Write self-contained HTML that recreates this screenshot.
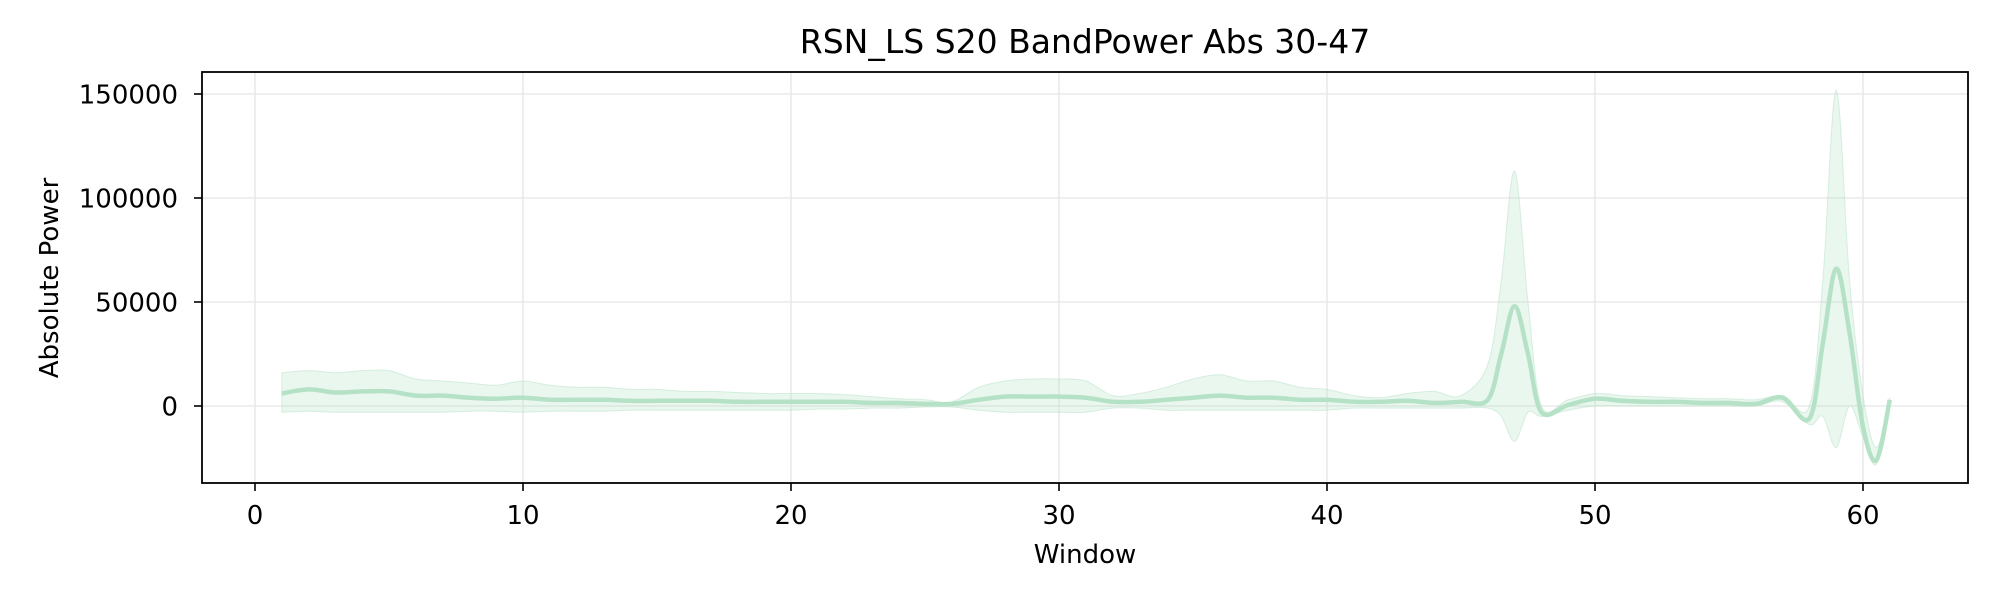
<!DOCTYPE html>
<html><head><meta charset="utf-8"><style>
html,body{margin:0;padding:0;background:#fff;}
svg text{font-family:"DejaVu Sans","Liberation Sans",sans-serif;fill:#000;}
</style></head><body>
<svg id="chart" width="2000" height="600" xmlns="http://www.w3.org/2000/svg">
<rect width="2000" height="600" fill="#fff"/>
<g id="grid"></g>
<g id="series"></g>
<rect x="202" y="72" width="1766" height="411" fill="none" stroke="#000" stroke-width="1.8"/>
<g id="axes"></g>
<text x="1085" y="53" font-size="33" text-anchor="middle">RSN_LS S20 BandPower Abs 30-47</text>
<text x="1085" y="563" font-size="26" text-anchor="middle">Window</text>
<text x="58" y="278" font-size="26" text-anchor="middle" transform="rotate(-90 58 278)">Absolute Power</text>
</svg>
<script>
const xs =    [1,2,3,4,5,6,7,8,9,10,11,12,13,14,15,16,17,18,19,20,21,22,23,24,25,26,27,28,29,30,31,32,33,34,35,36,37,38,39,40,41,42,43,44,45,46,46.5,47,47.5,48,49,50,51,52,53,54,55,56,57,58,58.5,59,59.5,60,60.5,61];
const meanVals = [6000,8000,6500,7000,7000,5000,5000,4000,3500,4000,3000,3000,3000,2500,2500,2500,2500,2000,2000,2000,2000,2000,1500,1500,1000,1000,3000,4500,4500,4500,4000,2000,2000,3000,4000,5000,4000,4000,3000,3000,2000,2000,2500,1500,2000,3000,25000,48000,25000,-3000,500,3500,2500,2000,2000,1500,1500,1000,4000,-6000,30000,66000,35000,-10000,-26000,3000];
const upperVals = [16000,17000,16000,17000,17000,13000,12000,11000,10000,12000,10000,9000,9000,8000,8000,7000,7000,6500,6000,6000,6000,5500,4500,3500,3000,2000,9000,12000,13000,13000,12000,5000,6000,9000,13000,15000,12000,12000,9000,8000,5000,4000,6000,7000,5000,20000,60000,113000,50000,0,3000,6000,5000,4500,4000,3500,3500,3000,5000,0,60000,152000,60000,5000,-20000,4000];
const lowerVals = [-3000,-2500,-3000,-3000,-3000,-3000,-3000,-2500,-2500,-3000,-2500,-2500,-2500,-2000,-2000,-2000,-2000,-2000,-2000,-2000,-1500,-1500,-1000,-1000,-500,-500,-2000,-3000,-3000,-3000,-3000,-1000,-1000,-2000,-2000,-2000,-2000,-2000,-2000,-2000,-1000,-1000,-1000,-1000,-1000,-1000,-5000,-17000,-3000,-5000,-2000,0,0,0,0,0,0,0,2000,-9000,-5000,-20000,0,-15000,-28000,500];
const xTicks = [0,10,20,30,40,50,60];
const yTicks = [0,50000,100000,150000];
const yTickLabels = ["0","50000","100000","150000"];

const NS="http://www.w3.org/2000/svg";
const X = v => 255 + v*26.8;
const Y = v => 406 - v*312/150000;
function mk(tag, attrs, parent){const e=document.createElementNS(NS,tag);for(const k in attrs)e.setAttribute(k,attrs[k]);parent.appendChild(e);return e;}
function smooth(px,py){
  let d="M"+px[0]+","+py[0];
  for(let i=0;i<px.length-1;i++){
    const x0=px[Math.max(i-1,0)],y0=py[Math.max(i-1,0)],x1=px[i],y1=py[i],x2=px[i+1],y2=py[i+1],x3=px[Math.min(i+2,px.length-1)],y3=py[Math.min(i+2,px.length-1)];
    const c1x=x1+(x2-x0)/6,c1y=y1+(y2-y0)/6,c2x=x2-(x3-x1)/6,c2y=y2-(y3-y1)/6;
    d+=" C"+c1x.toFixed(1)+","+c1y.toFixed(1)+" "+c2x.toFixed(1)+","+c2y.toFixed(1)+" "+x2.toFixed(1)+","+y2.toFixed(1);
  }
  return d;
}
const grid=document.getElementById('grid'), axes=document.getElementById('axes'), series=document.getElementById('series');
xTicks.forEach(t=>{
  const g=mk('line',{x1:X(t),x2:X(t),y1:72,y2:483,stroke:'#e5e5e5','stroke-width':1.3},grid);
  
  
  const tk=mk('line',{x1:X(t),x2:X(t),y1:483,y2:491,stroke:'#000','stroke-width':1.6},axes);
  
  
  const lb=mk('text',{x:X(t),y:524,'font-size':26,'text-anchor':'middle'},axes);
  lb.textContent=String(t);
  
  
});
yTicks.forEach((t,i)=>{
  const g=mk('line',{x1:202,x2:1968,y1:Y(t),y2:Y(t),stroke:'#e5e5e5','stroke-width':1.3},grid);
  
  
  const tk=mk('line',{x1:194,x2:202,y1:Y(t),y2:Y(t),stroke:'#000','stroke-width':1.6},axes);
  
  
  const lb=mk('text',{x:178,y:Y(t)+9.5,'font-size':26,'text-anchor':'end'},axes);
  lb.textContent=yTickLabels[i];
  
  
});
const px=xs.map(X);
const up=smooth(px,upperVals.map(Y));
const loR=smooth(px.slice().reverse(),lowerVals.map(Y).reverse());
const band=mk('path',{d:up+" L"+loR.slice(1)+" Z",fill:'rgba(181,226,198,0.28)',stroke:'rgba(181,226,198,0.5)','stroke-width':1},series);


const line=mk('path',{d:smooth(px,meanVals.map(Y)),fill:'none',stroke:'#b5e2c6','stroke-width':4.5,'stroke-linejoin':'round'},series);


</script>
</body></html>
